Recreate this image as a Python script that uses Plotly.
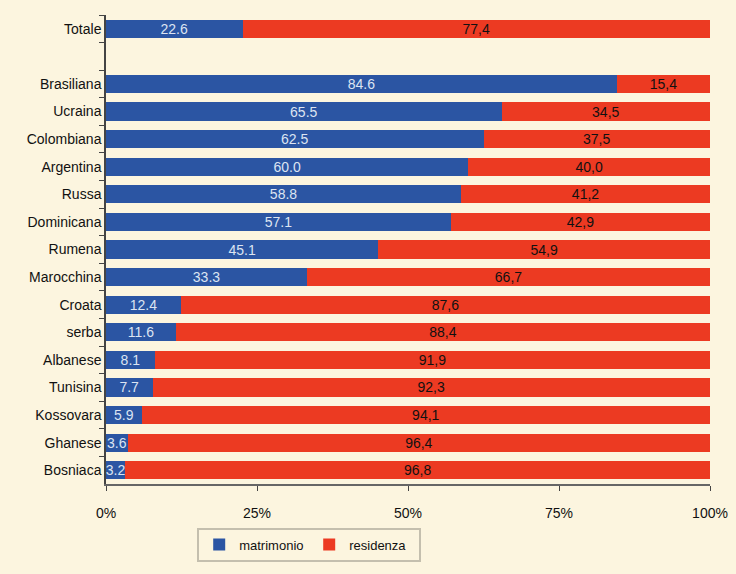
import plotly.graph_objects as go

categories = ["Totale", " ", "Brasiliana", "Ucraina", "Colombiana", "Argentina", "Russa",
              "Dominicana", "Rumena", "Marocchina", "Croata", "serba", "Albanese",
              "Tunisina", "Kossovara", "Ghanese", "Bosniaca"]
matrimonio = [22.6, None, 84.6, 65.5, 62.5, 60.0, 58.8, 57.1, 45.1, 33.3, 12.4, 11.6, 8.1,
              7.7, 5.9, 3.6, 3.2]
residenza = [77.4, None, 15.4, 34.5, 37.5, 40.0, 41.2, 42.9, 54.9, 66.7, 87.6, 88.4, 91.9,
             92.3, 94.1, 96.4, 96.8]
x_ticks = [0, 25, 50, 75, 100]
x_tick_labels = ["0%", "25%", "50%", "75%", "100%"]

BLUE = "#2B55A3"
RED = "#EC3A22"
BG = "#FCF5DF"
FONT = "Liberation Sans, Arial, sans-serif"

mat_text = ["" if v is None else f"{v:.1f}" for v in matrimonio]
res_text = ["" if v is None else f"{v:.1f}".replace(".", ",") for v in residenza]

fig = go.Figure()
fig.add_trace(go.Bar(
    y=categories, x=matrimonio, orientation="h", name="matrimonio",
    marker=dict(color=BLUE, line=dict(width=0)),
    text=mat_text, textposition="inside", insidetextanchor="middle",
    textangle=0, constraintext="none",
    textfont=dict(color="#DCE4F2", size=14, family=FONT),
))
fig.add_trace(go.Bar(
    y=categories, x=residenza, orientation="h", name="residenza",
    marker=dict(color=RED, line=dict(width=0)),
    text=res_text, textposition="inside", insidetextanchor="middle",
    textangle=0, constraintext="none",
    textfont=dict(color="#111111", size=14, family=FONT),
))

fig.update_layout(
    barmode="stack",
    bargap=0.34,
    width=736, height=574,
    paper_bgcolor=BG, plot_bgcolor=BG,
    margin=dict(l=106, r=26, t=15, b=87),
    font=dict(family=FONT, size=14, color="#111111"),
    showlegend=True,
    legend=dict(
        orientation="h", x=0.151, y=-0.093, xanchor="left", yanchor="top",
        bgcolor=BG, bordercolor="#C4BFAE", borderwidth=2,
        font=dict(size=13, family=FONT), entrywidth=65, entrywidthmode="pixels",
        itemwidth=30, traceorder="normal",
    ),
)
fig.update_xaxes(
    range=[0, 100], tickvals=x_ticks, ticktext=x_tick_labels,
    showgrid=False, zeroline=False, automargin=False,
    showline=True, linecolor="#666666", linewidth=2,
    ticks="outside", ticklen=5, tickcolor="#444444", tickwidth=1,
    ticklabelstandoff=10,
)
fig.update_yaxes(
    categoryorder="array", categoryarray=categories, autorange="reversed",
    showgrid=False, zeroline=False, automargin=False,
    showline=True, linecolor="#444444", linewidth=1.5,
    ticks="outside", ticklen=5, tickcolor="#444444",
    tickson="boundaries",
)

fig.write_html(
    "out.html",
    config={"displayModeBar": False},
    post_script="document.body.style.margin='0';document.body.style.background='" + BG + "';",
)
